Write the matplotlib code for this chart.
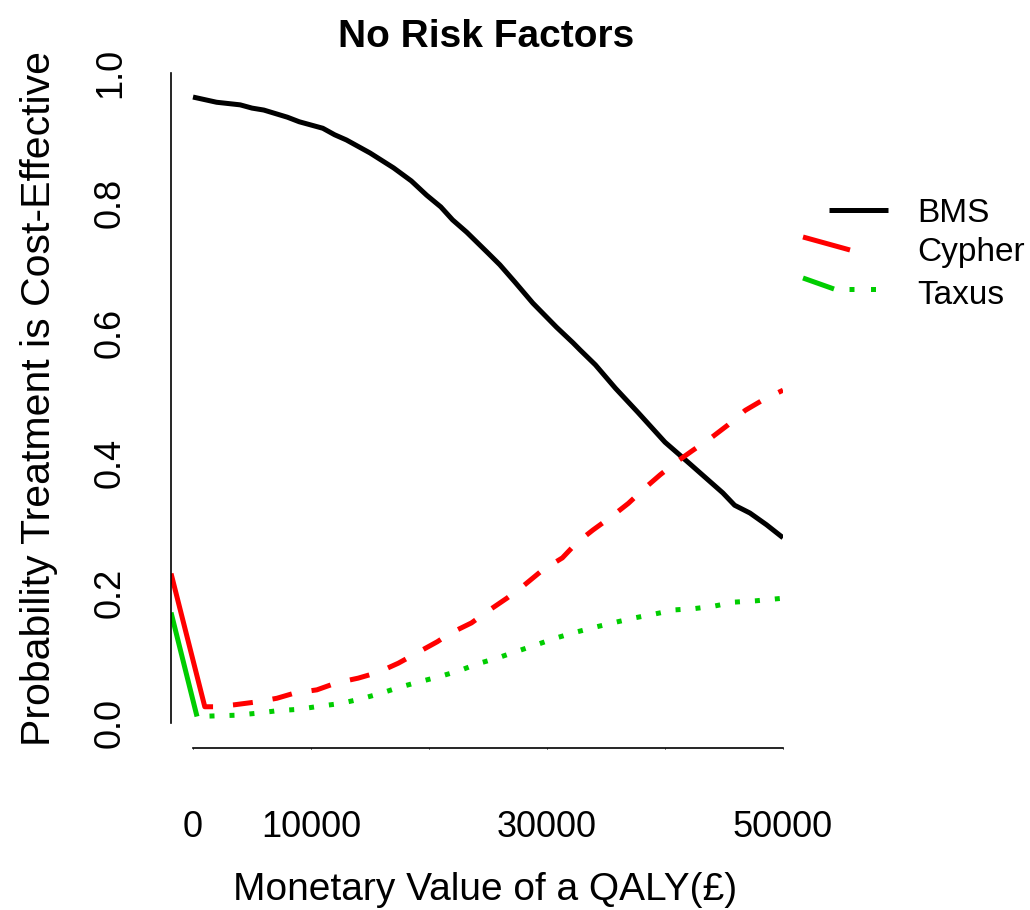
import matplotlib
matplotlib.use('Agg')
import matplotlib.pyplot as plt
from matplotlib.lines import Line2D

plt.rcParams.update({
    'font.family': ['Liberation Sans', 'DejaVu Sans'],
    'figure.dpi': 100,
})

# willingness to pay for a QALY (GBP) and probability cost-effective
bms_x = [0, 2000, 4000, 5000, 6000, 8000, 9000, 11000, 12000, 13000, 15000,
         17000, 18500, 19800, 21000, 22000, 23200, 25000, 26000, 27300, 28800,
         30800, 32200, 32800, 34100, 35800, 37700, 38900, 40000, 41900, 43400,
         44900, 45900, 47200, 48600, 50000]
bms_y = [0.963, 0.955, 0.951, 0.946, 0.943, 0.932, 0.925, 0.915, 0.905, 0.897,
         0.877, 0.854, 0.834, 0.812, 0.794, 0.774, 0.755, 0.723, 0.705, 0.678,
         0.646, 0.609, 0.585, 0.574, 0.551, 0.515, 0.478, 0.454, 0.432, 0.402,
         0.378, 0.354, 0.335, 0.323, 0.305, 0.285]

cypher_x = [-1860, 1000, 1700, 3500, 5200, 7100, 8600, 10500, 12200, 14000,
            15700, 17400, 19000, 20700, 21800, 23600, 24900, 26600, 28000,
            29600, 31300, 32500, 33900, 35500, 36900, 38200, 39600, 41000,
            42400, 44000, 45300, 46800, 48300, 50000]
cypher_y = [0.230, 0.025, 0.025, 0.028, 0.032, 0.038, 0.046, 0.051, 0.062,
            0.069, 0.078, 0.092, 0.108, 0.125, 0.138, 0.154, 0.171, 0.192,
            0.211, 0.235, 0.254, 0.277, 0.297, 0.318, 0.338, 0.360, 0.382,
            0.402, 0.420, 0.440, 0.458, 0.481, 0.497, 0.512]

taxus_x = [-1860, 340, 2000, 3700, 5400, 7200, 8900, 10800, 12500, 14200,
           15800, 17500, 19100, 20800, 22500, 24100, 25800, 27400, 29200,
           30800, 32500, 34200, 35800, 37500, 39200, 40800, 42500, 44200,
           45900, 47700, 50000]
taxus_y = [0.170, 0.010, 0.011, 0.012, 0.015, 0.019, 0.021, 0.026, 0.030,
           0.037, 0.045, 0.055, 0.063, 0.071, 0.080, 0.091, 0.100, 0.110,
           0.121, 0.131, 0.140, 0.148, 0.155, 0.162, 0.168, 0.174, 0.176,
           0.180, 0.186, 0.188, 0.192]

x_ticks = [0, 10000, 20000, 30000, 40000, 50000]
x_tick_labels = ['0', '10000', '', '30000', '', '50000']
y_ticks = [0.0, 0.2, 0.4, 0.6, 0.8, 1.0]
y_tick_labels = ['0.0', '0.2', '0.4', '0.6', '0.8', '1.0']

RED = '#FF0000'
GREEN = '#00CD00'
LW = 3.6

W, H = 1030, 910
fig = plt.figure(figsize=(W / 100, H / 100))
ax = fig.add_axes([171 / W, 1 - 723 / H, (783 - 171) / W, 650 / H])


def px(x, y):
    return x / W, 1 - y / H


# curves (first segment of Cypher/Taxus drawn solid, as in the original)
ax.plot(bms_x, bms_y, color='black', lw=LW, solid_capstyle='butt')
ax.plot(cypher_x[:3], cypher_y[:3], color=RED, lw=LW, solid_capstyle='butt')
ax.plot(cypher_x[2:], cypher_y[2:], color=RED, lw=LW,
        linestyle=(4, (4, 4)), dash_capstyle='butt')
ax.plot(taxus_x[:2], taxus_y[:2], color=GREEN, lw=LW, solid_capstyle='butt')
ax.plot(taxus_x[1:], taxus_y[1:], color=GREEN, lw=LW,
        linestyle=(1.5, (1, 3)), dash_capstyle='butt')

ax.set_xlim(-1864, 50000)
ax.set_ylim(0, 1)

for s in ['top', 'right']:
    ax.spines[s].set_visible(False)
ax.spines['left'].set_bounds(0, 1)
ax.spines['bottom'].set_bounds(0, 50000)
ax.spines['bottom'].set_position(('outward', 18))
ax.spines['left'].set_linewidth(1.2)
ax.spines['bottom'].set_linewidth(1.2)

ax.set_xticks(x_ticks)
ax.set_xticklabels(x_tick_labels, fontsize=26)
ax.set_yticks(y_ticks)
ax.set_yticklabels(y_tick_labels, fontsize=26, rotation=90, va='center')
ax.tick_params(axis='x', length=1, width=0.7, pad=43.5)
ax.tick_params(axis='y', length=0, pad=31)

ax.set_title('No Risk Factors', fontsize=28, fontweight='bold', pad=19, x=0.515)
ax.set_xlabel('Monetary Value of a QALY(£)', fontsize=28, va='center')
ax.xaxis.set_label_coords(0.513, -0.257)
ax.set_ylabel('Probability Treatment is Cost-Effective', fontsize=29.5, va='center')
ax.yaxis.set_label_coords(-0.216, 0.5)

# legend, drawn by hand to mimic the original's clipped key
fig.add_artist(Line2D([px(829, 0)[0], px(888, 0)[0]], [px(0, 210)[1]] * 2,
                      color='black', lw=LW, solid_capstyle='butt'))
fig.add_artist(Line2D([px(803, 0)[0], px(850, 0)[0]],
                      [px(0, 237)[1], px(0, 250)[1]],
                      color=RED, lw=LW, solid_capstyle='butt'))
fig.add_artist(Line2D([px(803, 0)[0], px(834, 0)[0]],
                      [px(0, 278)[1], px(0, 289)[1]],
                      color=GREEN, lw=LW, solid_capstyle='butt'))
fig.add_artist(Line2D([px(849, 0)[0], px(878, 0)[0]], [px(0, 289)[1]] * 2,
                      color=GREEN, lw=LW, linestyle=(0, (1, 3.3)),
                      dash_capstyle='butt'))
for name, y in zip(['BMS', 'Cypher', 'Taxus'], [213, 253, 295]):
    fig.text(*px(917, y), name, fontsize=24, ha='left', va='center')

fig.savefig('out.png', dpi=100)
